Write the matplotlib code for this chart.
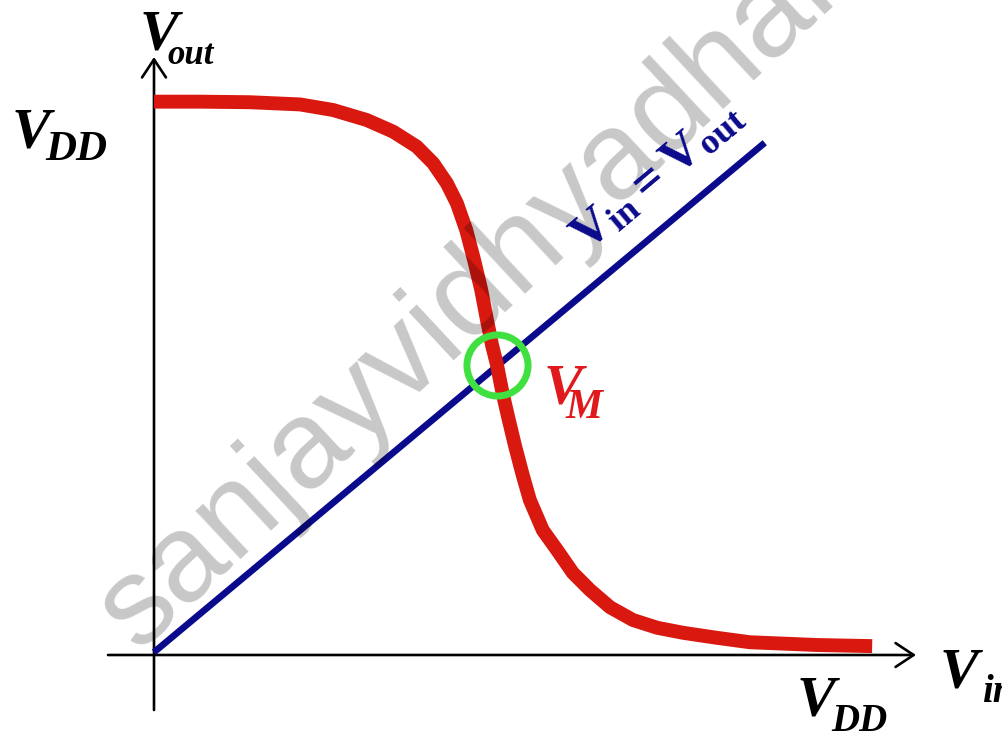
import matplotlib
matplotlib.use("Agg")
import matplotlib.pyplot as plt

# ---- data (in units of VDD) ----
vtc_vin = [0.000, 0.064, 0.134, 0.204, 0.250, 0.297, 0.334, 0.367, 0.390, 0.409,
           0.423, 0.436, 0.447, 0.457, 0.465, 0.472, 0.479, 0.486, 0.494, 0.504,
           0.515, 0.525, 0.543, 0.563, 0.585, 0.609, 0.637, 0.669, 0.703, 0.739,
           0.786, 0.832, 0.926, 1.003]
vtc_vout = [0.997, 0.997, 0.996, 0.992, 0.982, 0.964, 0.943, 0.916, 0.886, 0.850,
            0.814, 0.766, 0.712, 0.658, 0.604, 0.559, 0.523, 0.477, 0.432, 0.378,
            0.324, 0.279, 0.225, 0.189, 0.148, 0.117, 0.086, 0.063, 0.049, 0.040,
            0.031, 0.023, 0.018, 0.016]
diag_vin = [0.0, 0.853]
diag_vout = [0.005, 0.923]
vm_point = [0.479, 0.522]

W, H = 1002, 733
fig = plt.figure(figsize=(W / 100, H / 100), dpi=100)
ax = fig.add_axes([0, 0, 1, 1])
ox, oy = 154, 655      # origin position in pixels
sx, sy = 716, 555      # pixels per VDD
ax.set_xlim(-ox / sx, (W - ox) / sx)
ax.set_ylim((oy - H) / sy, oy / sy)
ax.axis("off")

plt.rcParams["mathtext.fontset"] = "custom"
plt.rcParams["mathtext.bf"] = "Liberation Serif:bold"
plt.rcParams["mathtext.rm"] = "Liberation Serif:bold"


def ftxt(px, py, s, **kw):
    return fig.text(px / W, 1 - py / H, s, **kw)


# axes arrows
arrow_kw = dict(arrowstyle="->,head_length=1.3,head_width=0.86", lw=1.9,
                color="black", shrinkA=0, shrinkB=0, mutation_scale=10)
ax.annotate("", xy=(0, (oy - 57) / sy), xytext=(0, (oy - 710) / sy),
            arrowprops=arrow_kw, zorder=2)
ax.annotate("", xy=((916 - ox) / sx, 0), xytext=((108 - ox) / sx, 0),
            arrowprops=arrow_kw, zorder=2)

# diagonal Vin = Vout
ax.plot(diag_vin, diag_vout, color="#0a0a8c", lw=4.8, solid_capstyle="butt",
        zorder=3)
# VTC
ax.plot(vtc_vin, vtc_vout, color="#d9180f", lw=10, solid_capstyle="butt",
        solid_joinstyle="round", zorder=4)
# switching point marker
ax.plot([vm_point[0]], [vm_point[1]], "o", ms=44, mfc="none", mec="#3fe03f",
        mew=5, zorder=5)

# watermark (semi-transparent, over the curves)
ftxt(138, 652, "sanjayvidhyadhar", family="Liberation Sans", fontsize=90,
     color="black", alpha=0.22, rotation=43, rotation_mode="anchor",
     ha="left", va="baseline", zorder=6)

bi = dict(family="Liberation Serif", weight="bold", style="italic",
          va="baseline", ha="left", zorder=8)

# V_out
ftxt(140, 50, "V", fontsize=42, **bi)
ftxt(167, 64, "out", fontsize=25, **bi)
# V_DD (left)
ftxt(12, 147, "V", fontsize=42, **bi)
ftxt(45, 160, "DD", fontsize=31, **bi)
# V_DD (bottom)
ftxt(797, 715, "V", fontsize=42, **bi)
ftxt(831, 731, "DD", fontsize=28, **bi)
# V_in (right)
ftxt(940, 688, "V", fontsize=42, **bi)
ftxt(982, 702, "in", fontsize=28, **bi)
# V_M
ftxt(544, 403, "V", fontsize=42, color="#e0191c", **bi)
ftxt(566, 418, "M", fontsize=30, color="#e0191c", **bi)

# Vin = Vout label along diagonal
ftxt(586, 252, r"$\mathbf{V_{in}{=}V_{out}}$", fontsize=37, color="#0a0a8c",
     rotation=40, rotation_mode="anchor", ha="left", va="baseline", zorder=8)

fig.savefig("out.png", dpi=100, facecolor="white")
